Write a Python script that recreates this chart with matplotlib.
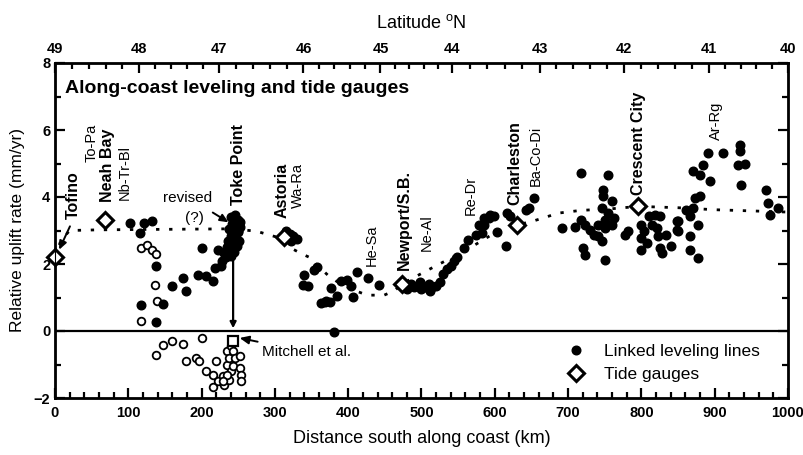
import matplotlib
matplotlib.use("Agg")
import matplotlib.pyplot as plt
from matplotlib.lines import Line2D
from matplotlib.ticker import MultipleLocator

plt.rcParams['font.family'] = ['Liberation Sans', 'DejaVu Sans']

# Linked leveling lines (filled): distance south along coast (km), uplift rate (mm/yr)
lev_km = [102, 116, 122, 132, 138, 118, 138, 147, 160, 175, 179, 195, 200, 206, 215, 218, 227, 222, 231,
          236, 238, 240, 242, 244, 246, 248, 251, 240, 244, 249, 238, 242, 247, 252, 240, 245, 250, 253, 246, 250, 235, 233, 228,
          315, 320, 325, 330, 322,
          340, 345, 338, 354, 357, 363, 368, 370, 375, 377, 385, 390, 399, 404, 406, 412, 427, 442, 381,
          480, 485, 490, 495, 500, 505, 510, 515, 520, 525, 498, 512,
          530, 535, 540, 545, 548, 558, 564, 574, 578, 585, 594, 603, 585, 592, 599, 582, 617, 621, 615, 642, 646, 653,
          691, 710, 718, 723, 730, 735, 741, 746, 721, 723, 718, 755, 748, 748, 760, 746, 755, 751, 760, 751, 741, 762, 750,
          778, 782, 799, 803, 800, 799, 807, 810, 819, 826, 814, 821, 823, 834, 826, 828, 841, 848, 848,
          850, 850, 866, 866, 877, 877, 866, 861, 871, 873, 880, 871, 880, 884, 894, 891, 912, 935, 935, 932, 941, 936,
          970, 973, 975, 986]
lev_rate = [3.22, 2.93, 3.22, 3.28, 1.94, 0.78, 0.27, 0.80, 1.33, 1.58, 1.19, 1.67, 2.48, 1.64, 1.49, 1.88, 1.94, 2.42, 2.33,
            2.70, 2.45, 2.25, 2.60, 2.35, 2.80, 2.55, 2.70, 2.85, 3.00, 2.95, 3.05, 3.20, 3.15, 3.10, 3.40, 3.35, 3.30, 3.25, 3.45, 3.00, 2.50, 2.20, 2.10,
            3.00, 2.90, 2.85, 2.75, 2.70,
            1.67, 1.33, 1.37, 1.82, 1.90, 0.84, 0.86, 0.90, 0.88, 1.28, 1.04, 1.49, 1.52, 1.34, 1.01, 1.76, 1.58, 1.37, -0.02,
            1.25, 1.40, 1.30, 1.35, 1.25, 1.30, 1.40, 1.30, 1.35, 1.45, 1.45, 1.20,
            1.70, 1.85, 1.95, 2.10, 2.20, 2.48, 2.72, 2.87, 3.17, 3.37, 3.46, 2.97, 3.16, 3.37, 3.43, 2.93, 3.52, 3.43, 2.54, 3.61, 3.67, 3.97,
            3.07, 3.10, 3.31, 3.16, 3.01, 2.87, 2.84, 2.69, 2.48, 2.27, 4.72, 4.66, 4.21, 4.03, 3.88, 3.67, 3.52, 3.31, 3.16, 3.07, 3.16, 3.37, 2.12,
            2.87, 2.99, 3.16, 2.99, 2.78, 2.42, 2.63, 3.43, 3.46, 3.43, 3.16, 3.07, 2.84, 2.87, 2.48, 2.33, 2.54, 3.28, 3.01,
            3.28, 2.99, 2.84, 2.42, 2.18, 3.16, 3.43, 3.61, 3.67, 3.97, 4.03, 4.78, 4.66, 4.96, 4.48, 5.31, 5.31, 5.55, 5.37, 4.96, 4.99, 4.36,
            4.21, 3.82, 3.46, 3.67]

# Unrevised leveling (open circles)
old_km = [118, 125, 132, 138, 137, 139, 118, 138, 147, 160, 174, 179, 193, 200, 197, 206, 215, 220, 215, 222, 229, 231,
          235, 235, 238, 240, 240, 243, 245, 243, 252, 252, 254, 254, 238, 234, 229]
old_rate = [2.48, 2.57, 2.42, 2.30, 1.37, 0.90, 0.30, -0.72, -0.42, -0.30, -0.39, -0.90, -0.80, -0.21, -0.90, -1.20, -1.30, -0.90, -1.67, -1.49, -1.34, -1.60,
            -0.60, -1.00, -0.80, -0.45, -1.20, -0.60, -0.80, -1.05, -0.75, -1.10, -1.30, -1.50, -1.45, -1.30, -1.50]

# Tide gauges
tide_names = ["Tofino", "Neah Bay", "Astoria", "Newport/S.B.", "Charleston", "Crescent City"]
tide_km = [0, 68, 312, 473, 630, 796]
tide_rate = [2.2, 3.3, 2.8, 1.4, 3.16, 3.72]

# Mitchell et al. estimate at Toke Point
mitchell_km = 243
mitchell_rate = -0.3

# Smoothed tide-gauge trend
trend_km = [0, 8, 20, 60, 120, 180, 240, 275, 290, 310, 324, 337, 347, 361, 374, 390, 410, 426, 449, 463, 473,
            490, 520, 560, 603, 630, 655, 687, 717, 760, 796, 850, 900, 1000]
trend_rate = [2.2, 2.7, 3.0, 3.02, 3.03, 3.04, 3.05, 2.98, 2.88, 2.76, 2.45, 2.3, 2.2, 1.9, 1.63, 1.4, 1.2, 1.07, 1.07, 1.2, 1.4,
              1.6, 1.95, 2.4, 2.97, 3.16, 3.3, 3.52, 3.6, 3.65, 3.72, 3.68, 3.62, 3.55]

# Latitude of the coast for each whole degree (km south along coast)
lat_values = [49, 48, 47, 46, 45, 44, 43, 42, 41, 40]
lat_km = [0, 115, 224, 339, 444, 542, 661, 776, 892, 1000]

# Leveling line segment labels
seg_names = ["To-Pa", "Nb-Tr-Bl", "Wa-Ra", "He-Sa", "Ne-Al", "Re-Dr", "Ba-Co-Di", "Ar-Rg"]

fig = plt.figure(figsize=(8.04, 4.55), dpi=100)
ax = fig.add_axes([55 / 804, 57 / 455, 733 / 804, 335 / 455])

ax.plot(trend_km, trend_rate, linestyle=(0, (1.2, 3.5)), color="k", lw=2.0, zorder=2)
ax.axhline(0, color="k", lw=1.6, zorder=1)

ax.plot(old_km, old_rate, "o", ms=5.5, mfc="white", mec="k", mew=1.3, zorder=3, linestyle="none")
ax.plot(lev_km, lev_rate, "o", ms=6.2, mfc="k", mec="k", zorder=4, linestyle="none")
ax.plot(tide_km, tide_rate, "D", ms=8.5, mfc="white", mec="k", mew=2.2, zorder=5, linestyle="none",
        clip_on=False)
ax.plot([mitchell_km], [mitchell_rate], "s", ms=7.5, mfc="white", mec="k", mew=1.6, zorder=5)

# Toke Point revision arrow
ax.annotate("", xy=(mitchell_km, 0.0), xytext=(mitchell_km, 3.0),
            arrowprops=dict(arrowstyle="-|>,head_length=0.35,head_width=0.18", color="k", lw=1.6), zorder=3)

ax.set_xlim(0, 1000)
ax.set_ylim(-2, 8)
ax.xaxis.set_major_locator(MultipleLocator(100))
ax.xaxis.set_minor_locator(MultipleLocator(20))
ax.yaxis.set_major_locator(MultipleLocator(2))
ax.yaxis.set_minor_locator(MultipleLocator(1))
ax.tick_params(which="both", direction="in", right=True, top=False, width=1.6, labelsize=10.5)
ax.tick_params(axis="x", pad=6)
ax.tick_params(which="major", length=7)
ax.tick_params(which="minor", length=4)
for lab in ax.get_xticklabels() + ax.get_yticklabels():
    lab.set_fontweight("bold")
for s in ax.spines.values():
    s.set_linewidth(2.0)

ax.set_xlabel("Distance south along coast (km)", fontsize=13, labelpad=7)
ax.set_ylabel("Relative uplift rate (mm/yr)", fontsize=12.5, labelpad=6)

# Latitude axis along the top
ax2 = ax.twiny()
ax2.set_xlim(ax.get_xlim())
ax2.set_xticks(lat_km)
ax2.set_xticklabels([str(v) for v in lat_values], fontweight="bold", fontsize=10.5)
minor_top = []
for i in range(len(lat_km) - 1):
    a, b = lat_km[i], lat_km[i + 1]
    minor_top += [a + (b - a) * k / 5 for k in range(1, 5)]
ax2.set_xticks(minor_top, minor=True)
ax2.tick_params(which="both", direction="in", width=1.6, pad=5)
ax2.tick_params(which="major", length=7)
ax2.tick_params(which="minor", length=4)
ax2.set_xlabel("Latitude $^{\\mathregular{o}}$N", fontsize=13, labelpad=10)

ax.text(14, 7.25, "Along-coast leveling and tide gauges", fontsize=14, fontweight="bold", va="center")

# Station and segment labels
bold_lab = dict(rotation=90, ha="center", va="bottom", fontsize=11.5, fontweight="bold")
norm_lab = dict(rotation=90, ha="center", va="bottom", fontsize=10.5)
ax.text(25, 3.35, tide_names[0], **bold_lab)
ax.text(50, 5.05, seg_names[0], **norm_lab)
ax.text(72, 3.85, tide_names[1], **bold_lab)
ax.text(95, 3.9, seg_names[1], **norm_lab)
ax.text(250, 3.75, "Toke Point", **bold_lab)
ax.text(310, 3.37, tide_names[2], **bold_lab)
ax.text(332, 3.67, seg_names[2], **norm_lab)
ax.text(432, 1.95, seg_names[3], **norm_lab)
ax.text(476, 1.82, tide_names[3], **bold_lab)
ax.text(507, 2.39, seg_names[4], **norm_lab)
ax.text(567, 3.46, seg_names[5], **norm_lab)
ax.text(627, 3.75, tide_names[4], **bold_lab)
ax.text(656, 4.33, seg_names[6], **norm_lab)
ax.text(796, 4.06, tide_names[5], **bold_lab)
ax.text(902, 5.7, seg_names[7], **norm_lab)

arrow = dict(arrowstyle="-|>,head_length=0.5,head_width=0.22", color="k", lw=1.4)
ax.annotate("", xy=(4, 2.35), xytext=(22, 3.2), arrowprops=arrow)
ax.text(181, 3.97, "revised", fontsize=11, ha="center", va="center")
ax.text(190, 3.37, "(?)", fontsize=11, ha="center", va="center")
ax.annotate("", xy=(240, 3.2), xytext=(212, 3.58), arrowprops=arrow)
ax.annotate("Mitchell et al.", xy=(250, -0.2), xytext=(282, -0.62), fontsize=11, va="center",
            arrowprops=dict(arrowstyle="-|>,head_length=0.5,head_width=0.22", color="k", lw=1.4,
                            shrinkA=1, shrinkB=1))

handles = [Line2D([], [], marker="o", ls="none", ms=6.2, mfc="k", mec="k"),
           Line2D([], [], marker="D", ls="none", ms=8.5, mfc="white", mec="k", mew=2.2)]
ax.legend(handles, ["Linked leveling lines", "Tide gauges"], loc="lower left",
          bbox_to_anchor=(0.675, 0.0), frameon=False, fontsize=12.5, handletextpad=1.0,
          labelspacing=0.45, handlelength=1.2)

fig.savefig("out.png", dpi=100)
